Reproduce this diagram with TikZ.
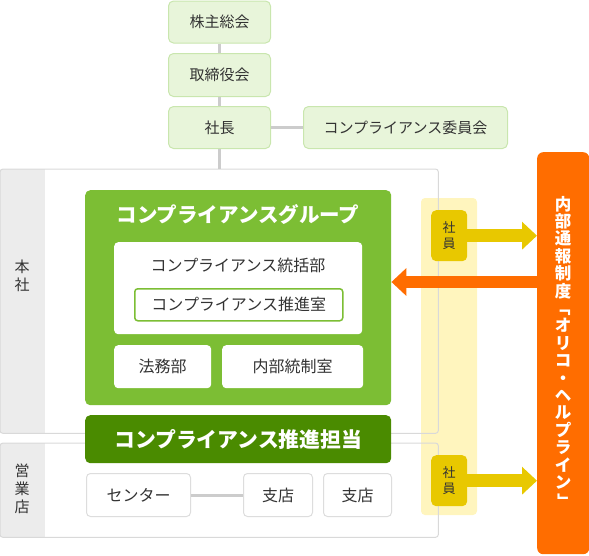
\documentclass[tikz,border=0pt]{standalone}
\usepackage{fontspec}
\usepackage{graphicx}
\setmainfont{Noto Sans CJK JP}
\usetikzlibrary{arrows.meta}
\definecolor{txt}{HTML}{333333}
\definecolor{topfill}{HTML}{E8F5DA}
\definecolor{topline}{HTML}{C9E6AE}
\definecolor{grp}{HTML}{7CBE34}
\definecolor{dkgrn}{HTML}{4A8B00}
\definecolor{conn}{HTML}{CCCCCC}
\definecolor{strip}{HTML}{ECECEC}
\definecolor{outline}{HTML}{D9D9D9}
\definecolor{band}{HTML}{FFF5BE}
\definecolor{empy}{HTML}{E8C800}
\definecolor{orng}{HTML}{FF6D00}
\definecolor{wline}{HTML}{DDDDDD}
\begin{document}
\begin{tikzpicture}[x=1pt,y=-1pt,
  topbox/.style={draw=topline, fill=topfill, line width=1pt, rounded corners=5pt,
    inner sep=0pt, anchor=north west, text=txt, font=\fontsize{15}{18}\selectfont},
  wbox/.style={fill=white, rounded corners=4pt, inner sep=0pt, anchor=north west,
    text=txt, font=\fontsize{16}{19}\selectfont},
  brbox/.style={wbox, draw=wline, line width=1pt},
  connline/.style={draw=conn, line width=3pt},
  yarrow/.style={draw=empy, line width=13pt, line cap=butt, -{Triangle[length=15pt,width=27pt]}},
  oarrow/.style={draw=orng, line width=12pt, line cap=butt, -{Triangle[length=15pt,width=27pt]}},
  empbox/.style={fill=empy, rounded corners=5pt, inner sep=0pt, anchor=north west,
    minimum width=36pt, minimum height=51pt, align=center, text=txt,
    font=\fontsize{13}{16}\selectfont},
  sidelabel/.style={align=center, text=txt, font=\fontsize{15}{18}\selectfont}
]
\useasboundingbox (0,0) rectangle (589,555);

% outer section boxes
\node[fill=white, minimum width=438pt, minimum height=264pt, inner sep=0pt, anchor=north west] (honsha) at (0,169) {};
\node[fill=white, minimum width=438pt, minimum height=94pt, inner sep=0pt, anchor=north west] (eigyo) at (0,443) {};
\begin{scope}
  \clip[rounded corners=3pt] (honsha.north west) rectangle (honsha.south east);
  \fill[strip] (0,169) rectangle (45,433);
\end{scope}
\begin{scope}
  \clip[rounded corners=3pt] (eigyo.north west) rectangle (eigyo.south east);
  \fill[strip] (0,443) rectangle (45,537);
\end{scope}
\node[sidelabel] (lblh) at (22,276) {本\\社};
\node[sidelabel] (lble) at (22,489) {営\\業\\店};

% yellow band
\fill[band, rounded corners=4pt] (421,198) rectangle (477,515);
\draw[outline, line width=1pt, rounded corners=3pt] (honsha.north west) rectangle (honsha.south east);
\draw[outline, line width=1pt, rounded corners=3pt] (eigyo.north west) rectangle (eigyo.south east);

% compliance group
\node[fill=grp, rounded corners=5pt, minimum width=306pt, minimum height=215pt, inner sep=0pt, anchor=north west] (grp) at (85,190) {};
\node[text=white, font=\fontsize{20.5}{23}\selectfont\bfseries] (grpt) at (238,215) {コンプライアンスグループ};
\node[wbox, minimum width=248pt, minimum height=92pt] (toku) at (114,242) {};
\node[text=txt, font=\fontsize{16}{19}\selectfont] (tokut) at (238,265) {コンプライアンス統括部};
\node[wbox, draw=grp, line width=1.5pt, rounded corners=3pt, minimum width=208pt, minimum height=32pt] (suishin) at (134,288) {コンプライアンス推進室};
\node[wbox, minimum width=97pt, minimum height=43pt] (homu) at (114,345) {法務部};
\node[wbox, minimum width=141pt, minimum height=43pt] (naibu) at (222,345) {内部統制室};

% promotion bar
\node[fill=dkgrn, rounded corners=5pt, minimum width=306pt, minimum height=48pt, inner sep=0pt, anchor=north west,
  text=white, font=\fontsize{20.8}{23}\selectfont\bfseries] (tanto) at (85,415) {コンプライアンス推進担当};

% branch boxes
\node[brbox, minimum width=104pt, minimum height=43pt] (center) at (86,473) {センター};
\node[brbox, minimum width=69pt, minimum height=43pt] (shiten1) at (243,473) {支店};
\node[brbox, minimum width=68pt, minimum height=43pt] (shiten2) at (323,473) {支店};
\draw[connline] (center) -- (shiten1);

% employees
\node[empbox] (emp1) at (431,210) {社\\員};
\node[empbox] (emp2) at (431,455) {社\\員};

% helpline
\node[fill=orng, rounded corners=6pt, minimum width=52pt, minimum height=402pt, inner sep=0pt, anchor=north west,
  align=center, text=white, font=\fontsize{16.5}{17.4}\selectfont\bfseries] (help) at (537,152)
  {内\\部\\通\\報\\制\\度\\\rotatebox[origin=c]{-90}{「}\\オ\\リ\\コ\\・\\ヘ\\ル\\プ\\ラ\\イ\\ン\\\rotatebox[origin=c]{-90}{」}};

\draw[yarrow] (emp1.east) -- (emp1.east -| help.west);
\draw[yarrow] (emp2.east) -- (emp2.east -| help.west);
\coordinate (oy) at (500,282);
\draw[oarrow] (help.west |- oy) -- (grp.east |- oy);

% top hierarchy
\node[topbox, minimum width=102pt, minimum height=42pt] (kabu) at (168,0.5) {株主総会};
\node[topbox, minimum width=102pt, minimum height=43pt] (tori) at (168,53) {取締役会};
\node[topbox, minimum width=102pt, minimum height=42pt] (pres) at (168,106) {社長};
\node[topbox, minimum width=204pt, minimum height=42pt] (cc) at (303,106) {コンプライアンス委員会};
\draw[connline] (kabu) -- (tori);
\draw[connline] (tori) -- (pres);
\draw[connline] (pres) -- (cc);
\draw[connline] (pres.south) -- (pres.south |- honsha.north);
\end{tikzpicture}
\end{document}
